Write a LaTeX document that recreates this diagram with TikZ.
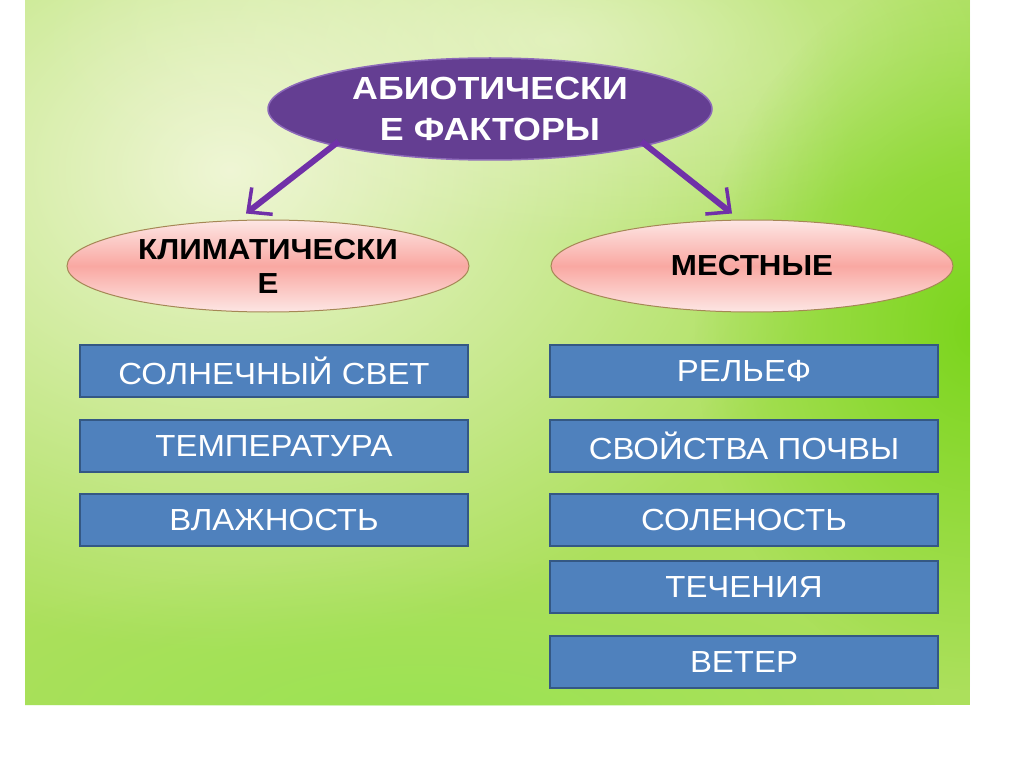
\documentclass[tikz,border=0pt]{standalone}
\usepackage{fontspec}
\setmainfont{Liberation Sans}
\newfontfamily\widesans[FakeStretch=1.08]{Liberation Sans}
\newfontfamily\widertitle[FakeStretch=1.12]{Liberation Sans}
\usetikzlibrary{arrows.meta, positioning, shapes.geometric, fadings}
\definecolor{bgbase}{RGB}{172,224,92}
\definecolor{bgpale}{RGB}{243,247,220}
\definecolor{bgbright}{RGB}{118,212,22}
\definecolor{headfill}{RGB}{100,62,146}
\definecolor{headline}{RGB}{140,105,185}
\definecolor{arrowpurple}{RGB}{112,48,168}
\definecolor{pinktop}{RGB}{253,230,228}
\definecolor{pinkmid}{RGB}{249,168,162}
\definecolor{pinkline}{RGB}{165,135,85}
\definecolor{boxfill}{RGB}{79,129,189}
\definecolor{boxline}{RGB}{52,88,132}
\tikzfading[name=softspot, inner color=transparent!0, outer color=transparent!100]

\begin{document}
\begin{tikzpicture}[
  x=1pt, y=-1pt,
  head/.style={ellipse, fill=headfill, draw=headline, line width=1.5pt,
               minimum width=444pt, minimum height=102pt, inner sep=0pt,
               text=white, align=center,
               font=\widertitle\fontsize{32}{41}\selectfont\bfseries},
  group/.style={ellipse, draw=pinkline, line width=1pt,
                top color=pinktop, bottom color=pinktop, middle color=pinkmid,
                minimum width=402pt, minimum height=92pt, inner sep=0pt,
                align=center, font=\widesans\fontsize{29}{34}\selectfont\bfseries},
  factor/.style={rectangle, fill=boxfill, draw=boxline, line width=1.5pt,
                 minimum width=388pt, minimum height=52pt, inner sep=0pt,
                 text=white, font=\widesans\fontsize{30.5}{34}\selectfont},
  arrow/.style={-{Straight Barb[length=18pt, width=34pt, line width=3.5pt]},
                line width=6pt, arrowpurple}
]
  % background
  \useasboundingbox (0,0) rectangle (1024,767);
  \fill[white] (0,0) rectangle (1024,767);
  \fill[bgbase] (25,0) rectangle (970,705);
  \begin{scope}
    \clip (25,0) rectangle (970,705);
    \fill[bgpale, path fading=softspot, opacity=0.95] (230,170) ellipse (620 and 480);
    \fill[bgpale, path fading=softspot, opacity=0.6] (560,40) ellipse (520 and 200);
    \fill[bgbright, path fading=softspot, opacity=0.9] (975,330) ellipse (280 and 360);
    \fill[bgbase!80!green, path fading=softspot, opacity=0.5] (420,720) ellipse (520 and 160);
  \end{scope}

  % title and groups
  \node[head]  (abio) at (490,109) {АБИОТИЧЕСКИ\\Е ФАКТОРЫ};
  \node[group] (klim) at (268,266) {КЛИМАТИЧЕСКИ\\Е};
  \node[group] (mest) at (752,266) {МЕСТНЫЕ};

  \draw[arrow] ([xshift=6pt, yshift=4pt]abio.south west)
            -- ([xshift=-22pt, yshift=6pt]klim.north);
  \draw[arrow] ([xshift=-6pt, yshift=4pt]abio.south east)
            -- ([xshift=-20pt, yshift=6pt]mest.north);

  % climatic factors
  \node[factor] (sun)  at (274,371) {СОЛНЕЧНЫЙ СВЕТ};
  \node[factor] (temp) at (274,446) {ТЕМПЕРАТУРА};
  \node[factor] (hum)  at (274,520) {ВЛАЖНОСТЬ};

  % local factors
  \node[factor] (relief) at (744,371) {РЕЛЬЕФ};
  \node[factor] (soil)   at (744,446) {СВОЙСТВА ПОЧВЫ};
  \node[factor] (salt)   at (744,520) {СОЛЕНОСТЬ};
  \node[factor] (flow)   at (744,587) {ТЕЧЕНИЯ};
  \node[factor] (wind)   at (744,662) {ВЕТЕР};
\end{tikzpicture}
\end{document}
